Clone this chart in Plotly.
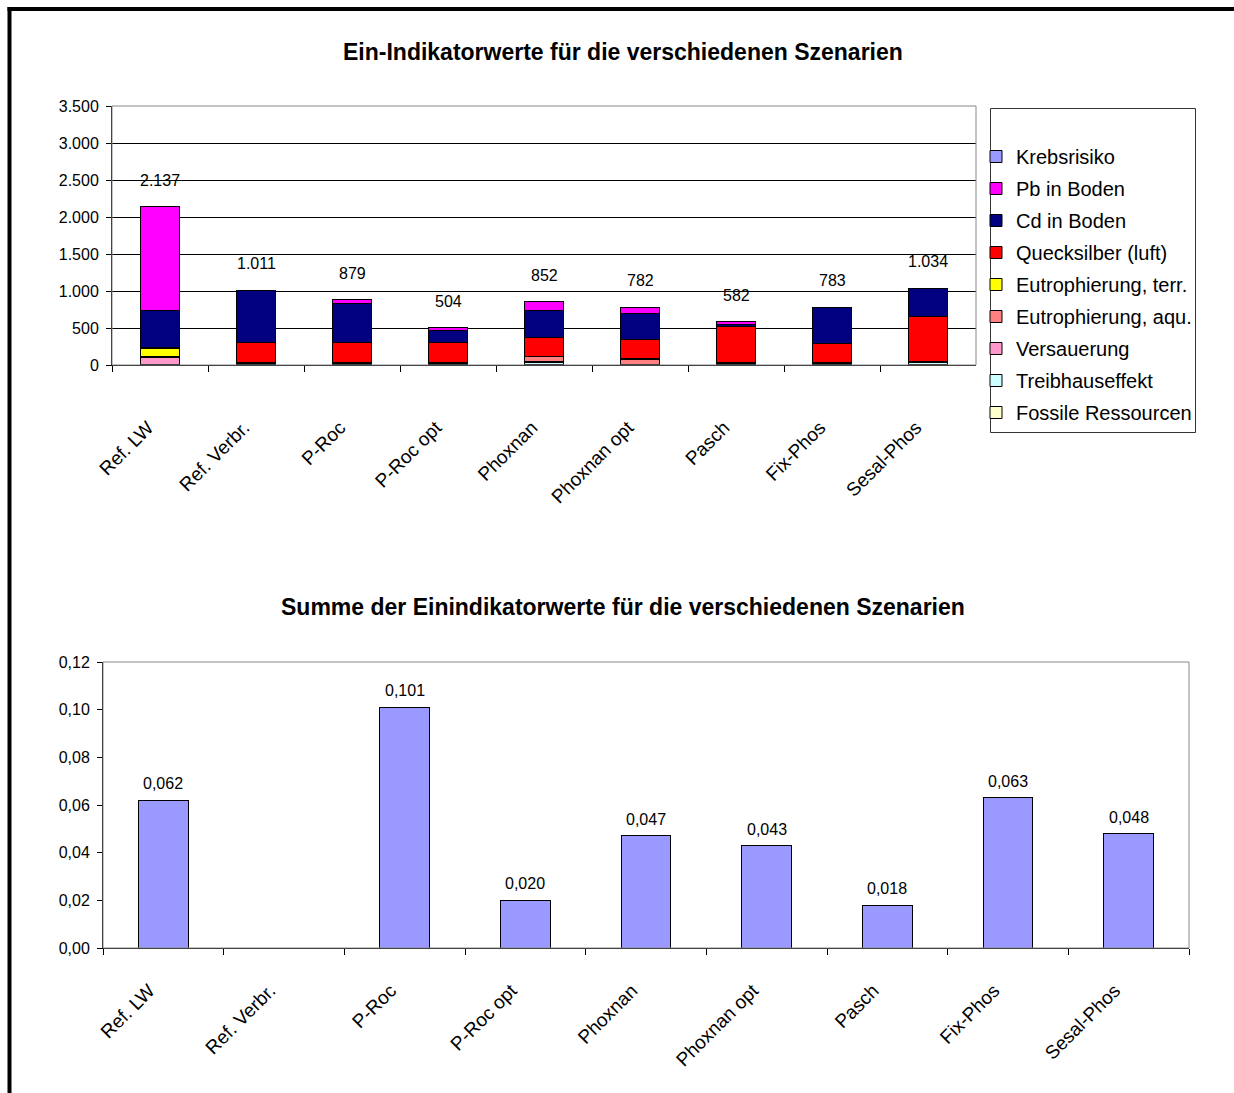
import plotly.graph_objects as go

W, H = 1234, 1093

categories = ["Ref. LW", "Ref. Verbr.", "P-Roc", "P-Roc opt", "Phoxnan",
              "Phoxnan opt", "Pasch", "Fix-Phos", "Sesal-Phos"]

# stacked series, bottom to top
fossile = [3, 8, 5, 5, 10, 3, 5, 8, 8]
treibhaus = [5, 8, 20, 20, 20, 3, 22, 8, 30]
versauerung = [90, 5, 3, 3, 15, 3, 3, 5, 5]
eutro_aqu = [12, 5, 3, 4, 70, 72, 3, 5, 5]
eutro_terr = [108, 3, 2, 2, 3, 2, 2, 3, 5]
quecksilber = [15, 270, 265, 268, 250, 257, 485, 265, 600]
cd_boden = [500, 707, 535, 165, 370, 350, 22, 484, 376]
pb_boden = [1404, 5, 46, 37, 114, 92, 40, 5, 5]
krebsrisiko = [0.062, 0, 0.101, 0.020, 0.047, 0.043, 0.018, 0.063, 0.048]

top_ticks = [0, 500, 1000, 1500, 2000, 2500, 3000, 3500]
bottom_ticks = [0, 0.02, 0.04, 0.06, 0.08, 0.10, 0.12]

series = [
    ("Fossile Ressourcen", fossile, "#FFFFCC"),
    ("Treibhauseffekt", treibhaus, "#CCFFFF"),
    ("Versauerung", versauerung, "#FF99CC"),
    ("Eutrophierung, aqu.", eutro_aqu, "#FF8080"),
    ("Eutrophierung, terr.", eutro_terr, "#FFFF00"),
    ("Quecksilber (luft)", quecksilber, "#FF0000"),
    ("Cd in Boden", cd_boden, "#000080"),
    ("Pb in Boden", pb_boden, "#FF00FF"),
    ("Krebsrisiko", krebsrisiko, "#9999FF"),
]

FONT = "Liberation Sans, Arial, sans-serif"

fig = go.Figure()
n = len(series)
for i, (name, vals, col) in enumerate(series):
    fig.add_trace(go.Bar(
        x=categories, y=vals, name=name, legendgroup=f"g{i}", legendrank=100 + (n - i),
        marker=dict(color=col, line=dict(color="black", width=1)),
        xaxis="x", yaxis="y"))

fig.add_trace(go.Bar(
    x=categories, y=krebsrisiko, name="Krebsrisiko", showlegend=False,
    marker=dict(color="#9999FF", line=dict(color="black", width=1)),
    xaxis="x2", yaxis="y2"))

totals = [sum(s[1][k] for s in series[:-1]) for k in range(len(categories))]

annotations = []
for c, t in zip(categories, totals):
    annotations.append(dict(x=c, y=t, xref="x", yref="y", text=f"{t:,}".replace(",", "."),
                            showarrow=False, yanchor="bottom", yshift=16,
                            font=dict(size=16, color="black", family=FONT)))
for c, v in zip(categories, krebsrisiko):
    if v > 0:
        annotations.append(dict(x=c, y=v, xref="x2", yref="y2",
                                text=f"{v:.3f}".replace(".", ","),
                                showarrow=False, yanchor="bottom", yshift=6,
                                font=dict(size=16, color="black", family=FONT)))

annotations.append(dict(x=623 / W, y=1 - 52 / H, xref="paper", yref="paper",
                        text="<b>Ein-Indikatorwerte für die verschiedenen Szenarien</b>",
                        showarrow=False, xanchor="center", yanchor="middle",
                        font=dict(size=23, color="black", family=FONT)))
annotations.append(dict(x=623 / W, y=1 - 607 / H, xref="paper", yref="paper",
                        text="<b>Summe der Einindikatorwerte für die verschiedenen Szenarien</b>",
                        showarrow=False, xanchor="center", yanchor="middle",
                        font=dict(size=23, color="black", family=FONT)))

shapes = [
    dict(type="rect", xref="x domain", yref="y domain", x0=0, x1=1, y0=0, y1=1,
         line=dict(color="#888888", width=1), layer="above"),
    dict(type="rect", xref="x2 domain", yref="y2 domain", x0=0, x1=1, y0=0, y1=1,
         line=dict(color="#888888", width=1), layer="above"),
    # legend box
    dict(type="rect", xref="paper", yref="paper", x0=990.5 / W, x1=1195.5 / W,
         y0=1 - 432.5 / H, y1=1 - 108.5 / H, line=dict(color="#333333", width=1),
         fillcolor="rgba(0,0,0,0)", layer="above"),
    # outer frame
    dict(type="line", xref="paper", yref="paper", x0=9.5 / W, x1=9.5 / W, y0=0, y1=1 - 7 / H,
         line=dict(color="black", width=4)),
    dict(type="line", xref="paper", yref="paper", x0=7.5 / W, x1=1, y0=1 - 9 / H, y1=1 - 9 / H,
         line=dict(color="black", width=4)),
]

axis_common = dict(showline=True, linecolor="black", linewidth=1, ticks="outside",
                   tickcolor="black", zeroline=False, color="black", automargin=False)

fig.update_layout(
    width=W, height=H, margin=dict(l=0, r=0, t=0, b=0, pad=0, autoexpand=False),
    paper_bgcolor="white", plot_bgcolor="white",
    barmode="stack", bargap=0.59, separators=",.",
    font=dict(family=FONT, color="black"),
    annotations=annotations, shapes=shapes,
    xaxis=dict(domain=[112 / W, 976 / W], anchor="y", type="category",
               tickson="boundaries", ticklen=6, tickangle=-45, ticklabelstandoff=43,
               ticklabelshift=-12, tickfont=dict(size=19), showgrid=False, **axis_common),
    yaxis=dict(domain=[1 - 365 / H, 1 - 106 / H], anchor="x", range=[0, 3500],
               tickvals=top_ticks, tickformat=",d", ticklen=5, ticklabelstandoff=4,
               tickfont=dict(size=16), showgrid=True, gridcolor="black", gridwidth=1,
               **axis_common),
    xaxis2=dict(domain=[103 / W, 1189 / W], anchor="y2", type="category",
                tickson="boundaries", ticklen=6, tickangle=-45, ticklabelstandoff=23,
                ticklabelshift=-14, tickfont=dict(size=19), showgrid=False, **axis_common),
    yaxis2=dict(domain=[1 - 948 / H, 1 - 662 / H], anchor="x2", range=[0, 0.12],
                tickvals=bottom_ticks, tickformat=".2f", ticklen=5, ticklabelstandoff=4,
                tickfont=dict(size=16), showgrid=False, **axis_common),
    legend=dict(x=976 / W, y=1 - 137 / H, xanchor="left", yanchor="top",
                borderwidth=0, bgcolor="rgba(0,0,0,0)",
                font=dict(size=20, family=FONT, color="black"),
                traceorder="grouped", tracegroupgap=3, itemwidth=30),
    showlegend=True,
)

fig.write_html("out.html")
